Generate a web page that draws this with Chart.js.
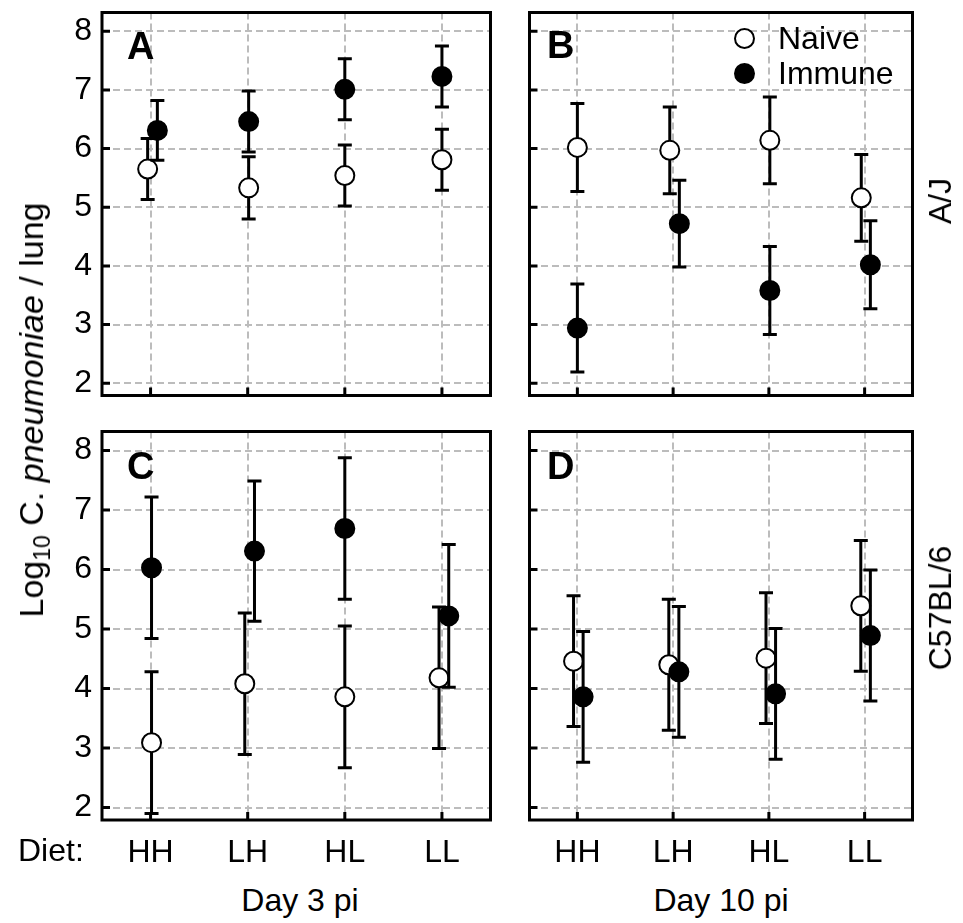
<!DOCTYPE html>
<html lang="en">
<head>
<meta charset="UTF-8" />
<title>Log10 C. pneumoniae / lung</title>
<script src="https://cdn.jsdelivr.net/npm/chart.js@4.4.1/dist/chart.umd.min.js"></script>
<style>
	body { margin: 0; background: #fff; }
	#wrap { position: relative; width: 963px; height: 923px; font-family: "Liberation Sans", Arial, sans-serif; color: #000; overflow: hidden; }
	canvas { position: absolute; }
	.lbl { position: absolute; font-size: 32px; line-height: 1; white-space: nowrap; }
	.big { font-weight: bold; font-size: 38px; }
	.rot { transform: translate(-50%, -50%) rotate(-90deg); }
	.mid { transform: translateX(-50%); }
	.dot { position: absolute; width: 21px; height: 21px; border: 2px solid #000; border-radius: 50%; box-sizing: border-box; }
	sub { font-size: 23px; vertical-align: -7px; line-height: 0; }
</style>
</head>
<body>
<div id="wrap">
	<canvas id="panelA"></canvas>
	<canvas id="panelB"></canvas>
	<canvas id="panelC"></canvas>
	<canvas id="panelD"></canvas>

	<div class="lbl rot" style="left:31px; top:410px; font-size:34px;">Log<sub>10</sub> C. <i>pneumoniae</i> / lung</div>
	<div class="lbl rot" style="left:940px; top:201px;">A/J</div>
	<div class="lbl rot" style="left:940px; top:608px;">C57BL/6</div>
	<div class="lbl" style="left:18px; top:834px;">Diet:</div>
	<div class="lbl mid" style="left:300px; top:884px;">Day 3 pi</div>
	<div class="lbl mid" style="left:721px; top:884px;">Day 10 pi</div>

	<div class="lbl big" style="left:127px; top:27px;">A</div>
	<div class="lbl big" style="left:547px; top:26px;">B</div>
	<div class="lbl big" style="left:127px; top:447px;">C</div>
	<div class="lbl big" style="left:547px; top:447px;">D</div>

	<div class="dot" style="left:734px; top:28px; background:#fff;"></div>
	<div class="dot" style="left:734px; top:63px; background:#000;"></div>
	<div class="lbl" style="left:778px; top:22px;">Naive</div>
	<div class="lbl" style="left:778px; top:57px;">Immune</div>
</div>

<script>
	const diets = ["HH", "LH", "HL", "LL"];
	const yTicks = [2, 3, 4, 5, 6, 7, 8];

	// A: A/J, day 3 pi
	const ajDay3Naive = [5.65, 5.33, 5.54, 5.81];
	const ajDay3NaiveErr = [0.52, 0.53, 0.52, 0.52];
	const ajDay3Immune = [6.31, 6.46, 7.01, 7.23];
	const ajDay3ImmuneErr = [0.51, 0.52, 0.52, 0.52];

	// B: A/J, day 10 pi
	const ajDay10Naive = [6.02, 5.97, 6.14, 5.16];
	const ajDay10NaiveErr = [0.75, 0.74, 0.74, 0.74];
	const ajDay10Immune = [2.94, 4.72, 3.58, 4.02];
	const ajDay10ImmuneErr = [0.75, 0.74, 0.75, 0.75];

	// C: C57BL/6, day 3 pi
	const b6Day3Naive = [3.09, 4.08, 3.86, 4.18];
	const b6Day3NaiveErr = [1.19, 1.19, 1.19, 1.19];
	const b6Day3Immune = [6.03, 6.31, 6.69, 5.22];
	const b6Day3ImmuneErr = [1.19, 1.18, 1.19, 1.2];

	// D: C57BL/6, day 10 pi
	const b6Day10Naive = [4.46, 4.4, 4.51, 5.39];
	const b6Day10NaiveErr = [1.1, 1.1, 1.1, 1.1];
	const b6Day10Immune = [3.86, 4.28, 3.91, 4.89];
	const b6Day10ImmuneErr = [1.1, 1.1, 1.1, 1.1];

	// small sideways shifts so overlapping groups stay readable (category units)
	const dodgeA = { naive: [-0.03, 0.01, 0, 0], immune: [0.07, 0.01, 0, 0] };
	const dodgeB = { naive: [0, -0.035, 0.01, -0.035], immune: [0, 0.065, 0.01, 0.06] };
	const dodgeC = { naive: [0.01, -0.03, 0, -0.03], immune: [0.01, 0.07, 0, 0.07] };
	const dodgeD = { naive: [-0.04, -0.045, -0.03, -0.04], immune: [0.06, 0.06, 0.07, 0.06] };

	const FONT = "'Liberation Sans', Arial, sans-serif";

	const errorBars = {
		id: "errorBars",
		beforeDatasetDraw(chart, args) {
			const ds = chart.data.datasets[args.index];
			const y = chart.scales.y;
			const ctx = chart.ctx;
			ctx.save();
			ctx.strokeStyle = "#000";
			ctx.lineWidth = 3;
			args.meta.data.forEach((pt, i) => {
				const top = y.getPixelForValue(ds.means[i] + ds.errors[i]);
				const bot = y.getPixelForValue(ds.means[i] - ds.errors[i]);
				ctx.beginPath();
				ctx.moveTo(pt.x, top);
				ctx.lineTo(pt.x, bot);
				ctx.moveTo(pt.x - 7, top);
				ctx.lineTo(pt.x + 7, top);
				ctx.moveTo(pt.x - 7, bot);
				ctx.lineTo(pt.x + 7, bot);
				ctx.stroke();
			});
			ctx.restore();
		},
	};

	// box frame with inward tick marks
	const frame = {
		id: "frame",
		afterDraw(chart) {
			const { ctx, chartArea: a, scales } = chart;
			ctx.save();
			ctx.strokeStyle = "#000";
			ctx.lineWidth = 3;
			ctx.strokeRect(a.left, a.top, a.right - a.left, a.bottom - a.top);
			ctx.beginPath();
			scales.y.ticks.forEach((t) => {
				const py = scales.y.getPixelForValue(t.value);
				ctx.moveTo(a.left, py);
				ctx.lineTo(a.left + 8, py);
			});
			scales.x.ticks.forEach((t) => {
				const px = scales.x.getPixelForValue(t.value);
				ctx.moveTo(px, a.bottom);
				ctx.lineTo(px, a.bottom - 8);
			});
			ctx.stroke();
			ctx.restore();
		},
	};

	function series(label, means, errors, dodge, fill, order) {
		return {
			label,
			means,
			errors,
			order,
			data: means.map((m, i) => ({ x: i + dodge[i], y: m })),
			pointRadius: 9.5,
			pointHoverRadius: 9.5,
			pointBackgroundColor: fill,
			pointBorderColor: "#000",
			pointBorderWidth: 2,
		};
	}

	function noPad(s) {
		s.paddingTop = 0;
		s.paddingBottom = 0;
		s.paddingLeft = 0;
		s.paddingRight = 0;
	}

	function panel(id, box, naive, immune, showY, showX) {
		const yw = showY ? 52 : 5;
		const xh = showX ? 52 : 5;
		const cv = document.getElementById(id);
		const left = box.left - yw;
		const top = box.top - 6;
		const w = box.right - left + 5;
		const h = box.bottom - top + xh;
		cv.width = w;
		cv.height = h;
		cv.style.width = w + "px";
		cv.style.height = h + "px";
		cv.style.left = left + "px";
		cv.style.top = top + "px";

		const gridOpts = { color: "#bcbcbc", lineWidth: 2, drawTicks: false };
		const borderOpts = { display: false, dash: [7, 4] };

		new Chart(cv, {
			type: "scatter",
			data: {
				datasets: [
					series("Naive", naive[0], naive[1], naive[2], "#fff", 2),
					series("Immune", immune[0], immune[1], immune[2], "#000", 1),
				],
			},
			options: {
				responsive: false,
				maintainAspectRatio: false,
				animation: false,
				layout: { padding: { top: 6, right: 5, left: 0, bottom: 0 } },
				plugins: { legend: { display: false }, tooltip: { enabled: false } },
				scales: {
					x: {
						type: "linear",
						min: -0.5,
						max: 3.5,
						afterBuildTicks: (s) => { s.ticks = diets.map((d, i) => ({ value: i })); },
						afterFit: (s) => { s.height = xh; noPad(s); },
						grid: gridOpts,
						border: borderOpts,
						ticks: {
							display: showX,
							autoSkip: false,
							maxRotation: 0,
							padding: 14,
							color: "#000",
							font: { family: FONT, size: 32 },
							callback: (v) => diets[v],
						},
					},
					y: {
						min: 1.79,
						max: 8.32,
						afterBuildTicks: (s) => { s.ticks = yTicks.map((v) => ({ value: v })); },
						afterFit: (s) => { s.width = yw; noPad(s); },
						grid: gridOpts,
						border: borderOpts,
						ticks: {
							display: showY,
							padding: 10,
							color: "#000",
							font: { family: FONT, size: 32 },
						},
					},
				},
			},
			plugins: [errorBars, frame],
		});
	}

	panel("panelA", { left: 102, top: 7, right: 497, bottom: 402 },
		[ajDay3Naive, ajDay3NaiveErr, dodgeA.naive], [ajDay3Immune, ajDay3ImmuneErr, dodgeA.immune], true, false);
	panel("panelB", { left: 523, top: 7, right: 919, bottom: 402 },
		[ajDay10Naive, ajDay10NaiveErr, dodgeB.naive], [ajDay10Immune, ajDay10ImmuneErr, dodgeB.immune], false, false);
	panel("panelC", { left: 102, top: 426, right: 497, bottom: 820 },
		[b6Day3Naive, b6Day3NaiveErr, dodgeC.naive], [b6Day3Immune, b6Day3ImmuneErr, dodgeC.immune], true, true);
	panel("panelD", { left: 523, top: 426, right: 919, bottom: 820 },
		[b6Day10Naive, b6Day10NaiveErr, dodgeD.naive], [b6Day10Immune, b6Day10ImmuneErr, dodgeD.immune], false, true);
</script>
</body>
</html>
